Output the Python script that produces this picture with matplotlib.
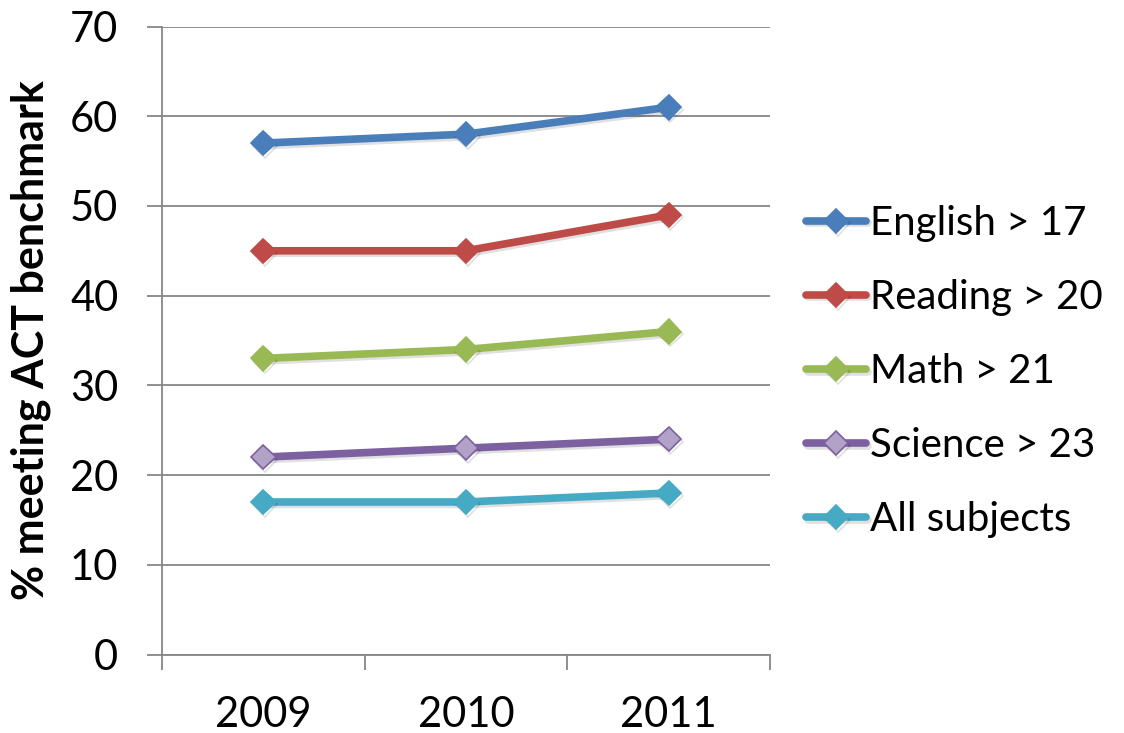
import matplotlib
matplotlib.use("Agg")
import matplotlib.pyplot as plt
import matplotlib.patheffects as pe

years = ["2009", "2010", "2011"]
english = [57, 58, 61]
reading = [45, 45, 49]
math_ = [33, 34, 36]
science = [22, 23, 24]
all_subj = [17, 17, 18]

labels = ["English > 17", "Reading > 20", "Math > 21", "Science > 23", "All subjects"]
series = [english, reading, math_, science, all_subj]
colors = ["#4A7EBB", "#BE4B48", "#98B954", "#7D60A0", "#46AAC5"]
faces = ["#4A7EBB", "#BE4B48", "#98B954", "#B3A2C7", "#46AAC5"]
yticks = [0, 10, 20, 30, 40, 50, 60, 70]

plt.rcParams['font.family'] = ['Lato', 'DejaVu Sans']

W, H = 1124, 733
fig = plt.figure(figsize=(W / 100, H / 100), dpi=100)
ax = fig.add_axes([162 / W, (H - 654.5) / H, (770 - 162) / W, (654.5 - 26.5) / H])

grid_c = "#868686"
x = list(range(len(years)))
shadow = [pe.SimpleLineShadow(offset=(1.2, -1.8), alpha=0.12, shadow_color="black"), pe.Normal()]
for vals, lab, c, fc in zip(series, labels, colors, faces):
    ax.plot(x, vals, color=c, lw=5.5, marker="D", ms=12.5, mfc=fc, mec=c, mew=1.2,
            label=lab, solid_capstyle="round", path_effects=shadow, zorder=3)

ax.set_xlim(-0.5, 2.5)
ax.set_ylim(0, 70)
ax.set_yticks(yticks)
ax.set_yticklabels([str(v) for v in yticks])
ax.set_xticks(x)
ax.set_xticklabels(years)
ax.set_xticks([-0.5, 0.5, 1.5, 2.5], minor=True)
ax.tick_params(axis="x", which="major", length=0, pad=30, labelsize=30)
ax.tick_params(axis="x", which="minor", length=10.8, width=1.3, color=grid_c, direction="out")
ax.tick_params(axis="y", length=10.5, width=1.3, color=grid_c, pad=21, labelsize=30)

ax.yaxis.grid(True, color=grid_c, lw=1.3)
ax.set_axisbelow(True)
for s in ["top", "right"]:
    ax.spines[s].set_visible(False)
for s in ["left", "bottom"]:
    ax.spines[s].set_color(grid_c)
    ax.spines[s].set_linewidth(1.3)

fig.text(31 / W, 1 - 340 / H, "% meeting ACT benchmark", rotation=90, ha="center", va="center",
         fontsize=31, fontweight="bold")

leg = fig.legend(loc="upper left", bbox_to_anchor=(806 / W, 1 - 205 / H), frameon=False,
                 fontsize=29, handlelength=1.5, handletextpad=0.1, labelspacing=0.92,
                 borderaxespad=0, borderpad=0)

fig.savefig("out.png", dpi=100)
